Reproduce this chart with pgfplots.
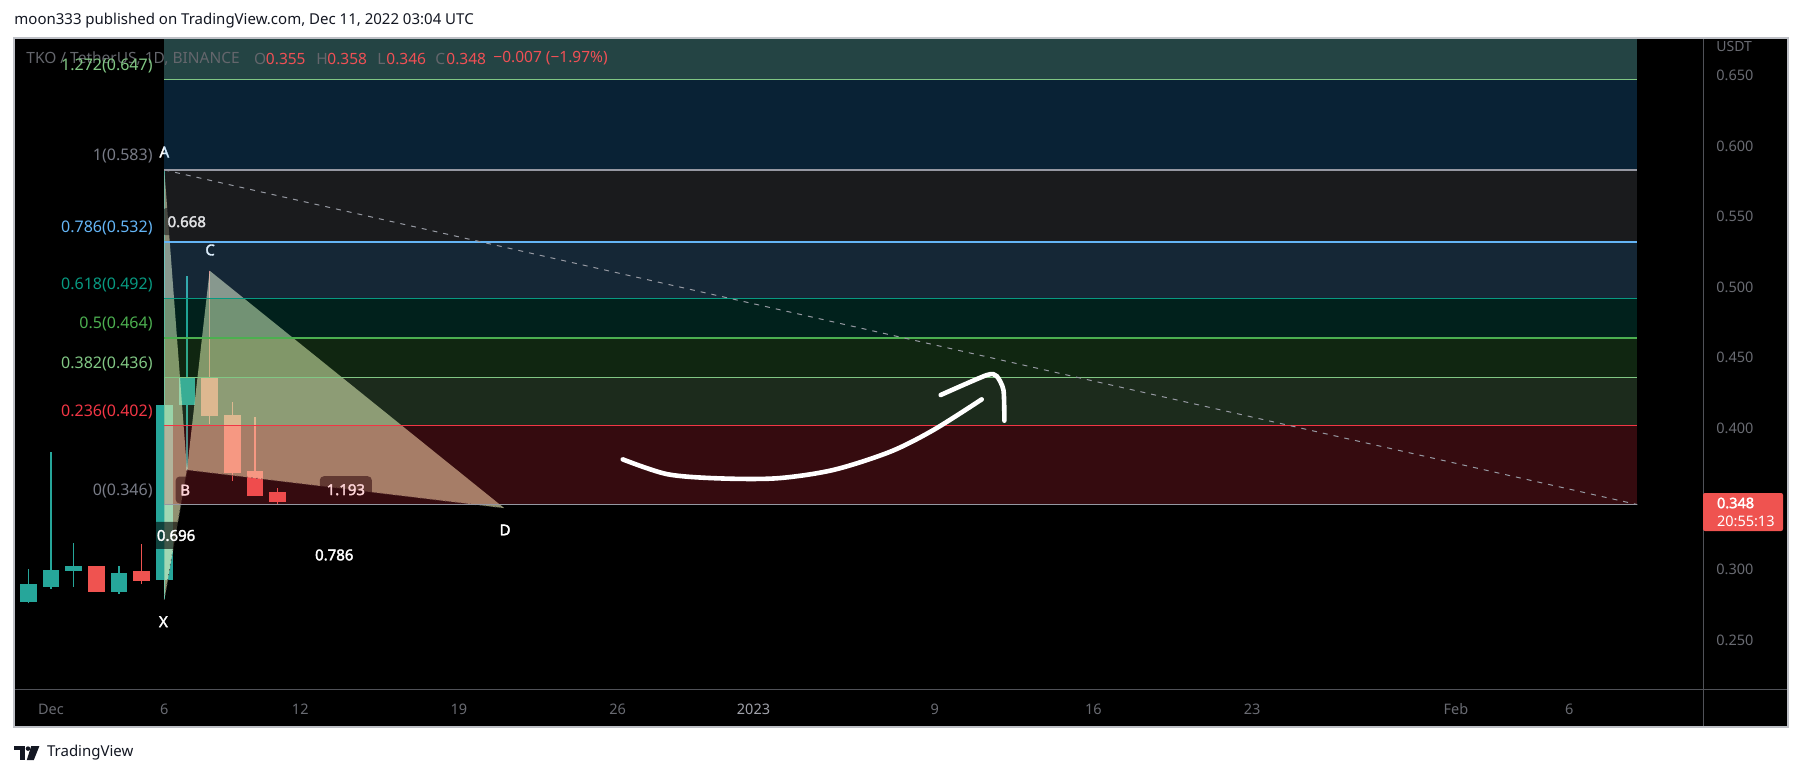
\documentclass[border=0pt]{standalone}
\usepackage{fontspec}
\setmainfont{Noto Sans}
\newfontfamily\lblfont{Noto Sans}[FakeBold=2.2]
\usepackage{pgfplots}
\pgfplotsset{compat=1.18}
\definecolor{teal1}{RGB}{38,166,154}
\definecolor{red1}{RGB}{239,83,80}
\definecolor{fibred}{RGB}{242,54,69}
\definecolor{fiblg}{RGB}{129,199,132}
\definecolor{fibg}{RGB}{76,175,80}
\definecolor{fibteal}{RGB}{8,153,129}
\definecolor{fibblue}{RGB}{100,181,246}
\definecolor{fibgrey}{RGB}{120,123,134}
\definecolor{fibline}{RGB}{150,152,162}
\definecolor{fibnavy}{RGB}{45,155,245}
\definecolor{fibtop}{RGB}{36,68,68}
\definecolor{patfill}{RGB}{255,255,200}
\definecolor{axgrey}{RGB}{105,107,114}
\definecolor{yeargrey}{RGB}{160,162,170}
\definecolor{sepgrey}{RGB}{80,82,88}
\definecolor{bordergrey}{RGB}{190,192,198}
\definecolor{dashgrey}{RGB}{150,153,162}
\definecolor{hdr}{RGB}{19,23,34}
\definecolor{leggrey}{RGB}{100,102,108}
\definecolor{legred}{RGB}{240,80,85}
\newcommand{\fs}[1]{\fontsize{#1}{#1}\selectfont}
\begin{document}
\begin{tikzpicture}
\fill[white] (0,0) rectangle (901pt,-388pt);
\node[anchor=west, inner sep=0pt, text=hdr, font=\fs{7.5pt}] at (7pt,-10.5pt) {moon333 published on TradingView.com, Dec 11, 2022 03:04 UTC};
\fill[black] (7pt,-19pt) rectangle (894pt,-363.5pt);
\begin{axis}[at={(7pt,-344.5pt)}, anchor=south west, scale only axis,
  width=844.5pt, height=325.5pt,
  xmin=-0.633, xmax=73.9, ymin=0.21537, ymax=0.67642,
  axis line style={draw=none}, major tick length=0pt,
  xtick={1,6,12,19,26,32,40,47,54,63,68},
  xticklabels={Dec,6,12,19,26,{\color{yeargrey}2023},9,16,23,Feb,6},
  ytick={0.25,0.3,0.4,0.45,0.5,0.55,0.6,0.65},
  yticklabels={0.250,0.300,0.400,0.450,0.500,0.550,0.600,0.650},
  ytick pos=right, yticklabel pos=right,
  xticklabel style={anchor=center, inner sep=0pt, yshift=-10pt, font=\fs{7.25pt}, text=axgrey},
  yticklabel style={anchor=west, inner sep=0pt, xshift=6.5pt, font=\fs{7.25pt}, text=axgrey},
  clip=true]
% ---- candles ----
\addplot[teal1, line width=0.6pt] coordinates {(0,0.2761)(0,0.3001)};
\addplot[fill=teal1, draw=none] coordinates {(-0.368,0.2772)(0.368,0.2772)(0.368,0.2897)(-0.368,0.2897)} --cycle;
\addplot[teal1, line width=0.6pt] coordinates {(1,0.2864)(1,0.3832)};
\addplot[fill=teal1, draw=none] coordinates {(0.632,0.2878)(1.368,0.2878)(1.368,0.2997)(0.632,0.2997)} --cycle;
\addplot[teal1, line width=0.6pt] coordinates {(2,0.2878)(2,0.3186)};
\addplot[fill=teal1, draw=none] coordinates {(1.632,0.2992)(2.368,0.2992)(2.368,0.3025)(1.632,0.3025)} --cycle;
\addplot[fill=red1, draw=none] coordinates {(2.632,0.2843)(3.368,0.2843)(3.368,0.3025)(2.632,0.3025)} --cycle;
\addplot[teal1, line width=0.6pt] coordinates {(4,0.2827)(4,0.3025)};
\addplot[fill=teal1, draw=none] coordinates {(3.632,0.2843)(4.368,0.2843)(4.368,0.2973)(3.632,0.2973)} --cycle;
\addplot[red1, line width=0.6pt] coordinates {(5,0.2897)(5,0.3181)};
\addplot[fill=red1, draw=none] coordinates {(4.632,0.2919)(5.368,0.2919)(5.368,0.2989)(4.632,0.2989)} --cycle;
\addplot[teal1, line width=0.6pt] coordinates {(6,0.2785)(6,0.583)};
\addplot[fill=teal1, draw=none] coordinates {(5.632,0.2926)(6.368,0.2926)(6.368,0.4163)(5.632,0.4163)} --cycle;
\addplot[teal1, line width=0.6pt] coordinates {(7,0.3705)(7,0.508)};
\addplot[fill=teal1, draw=none] coordinates {(6.632,0.4165)(7.368,0.4165)(7.368,0.4354)(6.632,0.4354)} --cycle;
\addplot[red1, line width=0.6pt] coordinates {(8,0.403)(8,0.5116)};
\addplot[fill=red1, draw=none] coordinates {(7.632,0.4087)(8.368,0.4087)(8.368,0.4354)(7.632,0.4354)} --cycle;
\addplot[red1, line width=0.6pt] coordinates {(9,0.3629)(9,0.4186)};
\addplot[fill=red1, draw=none] coordinates {(8.632,0.3686)(9.368,0.3686)(9.368,0.4094)(8.632,0.4094)} --cycle;
\addplot[red1, line width=0.6pt] coordinates {(10,0.3523)(10,0.408)};
\addplot[fill=red1, draw=none] coordinates {(9.632,0.3523)(10.368,0.3523)(10.368,0.3697)(9.632,0.3697)} --cycle;
\addplot[red1, line width=0.6pt] coordinates {(11,0.346)(11,0.358)};
\addplot[fill=red1, draw=none] coordinates {(10.632,0.348)(11.368,0.348)(11.368,0.355)(10.632,0.355)} --cycle;
% ---- XABCD pattern ----
\addplot[fill=patfill, fill opacity=0.57, draw=none] coordinates {(6,0.2785)(6,0.583)(7,0.3705)} --cycle;
\addplot[fill=patfill, fill opacity=0.57, draw=none] coordinates {(7,0.3705)(8,0.5116)(21,0.3435)} --cycle;
\addplot[black!75, line width=0.5pt, dotted] coordinates {(6,0.2785)(7,0.3705)};
\addplot[black!75, line width=0.5pt, dotted] coordinates {(7,0.3705)(21,0.3435)};
\node[fill=black, fill opacity=0.6, text opacity=1, text=white, rounded corners=2pt, inner sep=0pt, minimum width=9.5pt, minimum height=13.5pt, font=\lblfont\fs{7.5pt}] at (axis cs:6.92,0.3563) {B};
\node[fill=black, fill opacity=0.6, text opacity=1, text=white, rounded corners=2pt, inner sep=0pt, minimum width=26pt, minimum height=13.5pt, font=\lblfont\fs{7.5pt}] at (axis cs:14.01,0.3565) {1.193};
\node[fill=black, fill opacity=0.6, text opacity=1, text=white, rounded corners=2pt, inner sep=0pt, minimum width=25pt, minimum height=13.5pt, font=\lblfont\fs{7.5pt}] at (axis cs:6.52,0.3241) {0.696};
\node[fill=black, fill opacity=0.6, text opacity=1, text=white, rounded corners=2pt, inner sep=0pt, minimum width=25pt, minimum height=13.5pt, font=\lblfont\fs{7.5pt}] at (axis cs:6.99,0.5463) {0.668};
\node[text=white, inner sep=0pt, font=\lblfont\fs{7.5pt}] at (axis cs:13.5,0.3103) {0.786};
\node[text=white, inner sep=0pt, font=\lblfont\fs{7.5pt}] at (axis cs:6,0.5957) {A};
\node[text=white, inner sep=0pt, font=\lblfont\fs{7.5pt}] at (axis cs:8.02,0.5263) {C};
\node[text=white, inner sep=0pt, font=\lblfont\fs{7.5pt}] at (axis cs:21.04,0.328) {D};
\node[text=white, inner sep=0pt, font=\lblfont\fs{7.5pt}] at (axis cs:5.96,0.263) {X};
% ---- fib bands ----
\addplot[fill=fibred, fill opacity=0.22, draw=none] coordinates {(6,0.346)(71,0.346)(71,0.402)(6,0.402)} --cycle;
\addplot[fill=fiblg, fill opacity=0.22, draw=none] coordinates {(6,0.402)(71,0.402)(71,0.436)(6,0.436)} --cycle;
\addplot[fill=fibg, fill opacity=0.22, draw=none] coordinates {(6,0.436)(71,0.436)(71,0.464)(6,0.464)} --cycle;
\addplot[fill=fibteal, fill opacity=0.22, draw=none] coordinates {(6,0.464)(71,0.464)(71,0.492)(6,0.492)} --cycle;
\addplot[fill=fibblue, fill opacity=0.22, draw=none] coordinates {(6,0.492)(71,0.492)(71,0.532)(6,0.532)} --cycle;
\addplot[fill=fibgrey, fill opacity=0.22, draw=none] coordinates {(6,0.532)(71,0.532)(71,0.583)(6,0.583)} --cycle;
\addplot[fill=fibnavy, fill opacity=0.22, draw=none] coordinates {(6,0.583)(71,0.583)(71,0.647)(6,0.647)} --cycle;
\addplot[fill=fibtop, draw=none] coordinates {(6,0.647)(71,0.647)(71,0.69)(6,0.69)} --cycle;
% ---- fib lines ----
\addplot[fiblg, line width=0.6pt] coordinates {(6,0.647)(71,0.647)};
\addplot[fibline, line width=0.6pt] coordinates {(6,0.583)(71,0.583)};
\addplot[fibblue, line width=0.6pt] coordinates {(6,0.532)(71,0.532)};
\addplot[fibteal, line width=0.6pt] coordinates {(6,0.492)(71,0.492)};
\addplot[fibg, line width=0.6pt] coordinates {(6,0.464)(71,0.464)};
\addplot[fiblg, line width=0.6pt] coordinates {(6,0.436)(71,0.436)};
\addplot[fibred, line width=0.6pt] coordinates {(6,0.402)(71,0.402)};
\addplot[fibline, line width=0.6pt] coordinates {(6,0.346)(71,0.346)};
% ---- dashed trend ----
\addplot[dashgrey, line width=0.5pt, dash pattern=on 2.5pt off 3pt] coordinates {(6,0.583)(71,0.346)};
% ---- legend ----
\node[anchor=west, inner sep=0pt, text=leggrey, font=\fs{7.75pt}] at (axis description cs:0.0071,0.9684) {TKO / TetherUS, 1D, BINANCE};
\node[anchor=west, inner sep=0pt, text=leggrey, font=\fs{7.75pt}] at (axis description cs:0.14186,0.9684) {O};
\node[anchor=west, inner sep=0pt, text=legred, font=\fs{7.75pt}] at (axis description cs:0.14896,0.9684) {0.355};
\node[anchor=west, inner sep=0pt, text=leggrey, font=\fs{7.75pt}] at (axis description cs:0.1788,0.9684) {H};
\node[anchor=west, inner sep=0pt, text=legred, font=\fs{7.75pt}] at (axis description cs:0.18532,0.9684) {0.358};
\node[anchor=west, inner sep=0pt, text=leggrey, font=\fs{7.75pt}] at (axis description cs:0.21492,0.9684) {L};
\node[anchor=west, inner sep=0pt, text=legred, font=\fs{7.75pt}] at (axis description cs:0.22025,0.9684) {0.346};
\node[anchor=west, inner sep=0pt, text=leggrey, font=\fs{7.75pt}] at (axis description cs:0.24926,0.9684) {C};
\node[anchor=west, inner sep=0pt, text=legred, font=\fs{7.75pt}] at (axis description cs:0.25577,0.9684) {0.348};
\node[anchor=west, inner sep=0pt, text=legred, font=\fs{7.75pt}] at (axis description cs:0.2836,0.9684) {−0.007 (−1.97\%)};
% ---- fib labels ----
\node[anchor=east, inner sep=0pt, yshift=6.75pt, text=fiblg, font=\fs{8pt}] at (axis cs:5.5,0.647) {1.272(0.647)};
\node[anchor=east, inner sep=0pt, yshift=6.75pt, text=fibgrey, font=\fs{8pt}] at (axis cs:5.5,0.583) {1(0.583)};
\node[anchor=east, inner sep=0pt, yshift=6.75pt, text=fibblue, font=\fs{8pt}] at (axis cs:5.5,0.532) {0.786(0.532)};
\node[anchor=east, inner sep=0pt, yshift=6.75pt, text=fibteal, font=\fs{8pt}] at (axis cs:5.5,0.492) {0.618(0.492)};
\node[anchor=east, inner sep=0pt, yshift=6.75pt, text=fibg, font=\fs{8pt}] at (axis cs:5.5,0.464) {0.5(0.464)};
\node[anchor=east, inner sep=0pt, yshift=6.75pt, text=fiblg, font=\fs{8pt}] at (axis cs:5.5,0.436) {0.382(0.436)};
\node[anchor=east, inner sep=0pt, yshift=6.75pt, text=fibred, font=\fs{8pt}] at (axis cs:5.5,0.402) {0.236(0.402)};
\node[anchor=east, inner sep=0pt, yshift=6.75pt, text=fibgrey, font=\fs{8pt}] at (axis cs:5.5,0.346) {0(0.346)};
% ---- hand-drawn arrow ----
\addplot[white, line width=2.3pt, line cap=round, smooth] coordinates {(26.23,0.3780)(28.17,0.3676)(30.38,0.3646)(33.03,0.3646)(35.52,0.3705)(38.03,0.3834)(39.94,0.3988)(42.07,0.4205)};
\addplot[white, line width=2.3pt, line cap=round, line join=round, smooth, tension=0.4] coordinates {(40.26,0.4236)(42.29,0.4377)(42.73,0.4370)(43.03,0.4271)(43.07,0.4054)};
\end{axis}
% ---- frame ----
\draw[sepgrey, line width=0.5pt] (851.5pt,-19pt) -- (851.5pt,-363.5pt);
\draw[sepgrey, line width=0.5pt] (7pt,-344.5pt) -- (894pt,-344.5pt);
\draw[bordergrey, line width=0.6pt] (7pt,-19pt) rectangle (894pt,-363.5pt);
\node[anchor=west, inner sep=0pt, text=axgrey, font=\fs{7pt}] at (858pt,-23.5pt) {USDT};
\fill[red1, rounded corners=1pt] (851.5pt,-246.5pt) rectangle (891.5pt,-265.5pt);
\node[anchor=west, inner sep=0pt, text=white, font=\lblfont\fs{7.25pt}] at (858.3pt,-251.5pt) {0.348};
\node[anchor=west, inner sep=0pt, text=white, font=\fs{7.25pt}] at (858.3pt,-260.5pt) {20:55:13};
% ---- TradingView logo ----
\fill[hdr] (7pt,-373pt) rectangle (12.65pt,-375.2pt);
\fill[hdr] (9.85pt,-375.2pt) rectangle (12.65pt,-380pt);
\fill[hdr] (14pt,-374.3pt) circle (1.15pt);
\fill[hdr] (15.6pt,-373pt) -- (19.7pt,-373pt) -- (16.9pt,-380pt) -- (13.4pt,-380pt) -- cycle;
\node[anchor=west, inner sep=0pt, text=hdr, font=\fs{7.5pt}] at (23.35pt,-376.15pt) {TradingView};
\pgfresetboundingbox
\path (0,0) rectangle (901pt,-388pt);
\end{tikzpicture}
\end{document}
